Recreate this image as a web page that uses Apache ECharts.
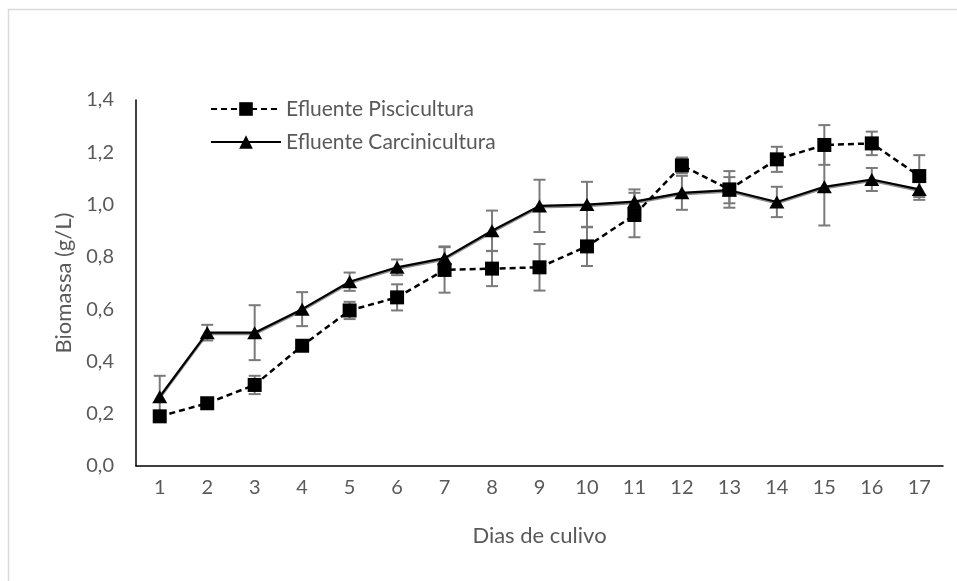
<!DOCTYPE html>
<html>
<head>
<meta charset="utf-8">
<script src="https://cdn.jsdelivr.net/npm/echarts@6/dist/echarts.min.js"></script>
<style>
  html, body { margin: 0; padding: 0; background: #fff; }
  #chart { width: 957px; height: 581px; }
</style>
</head>
<body>
<div id="chart"></div>
<script>
// dias de cultivo
var dias = ['1', '2', '3', '4', '5', '6', '7', '8', '9', '10', '11', '12', '13', '14', '15', '16', '17'];

// Efluente Piscicultura (quadrado, tracejado)
var pisc = [0.19, 0.24, 0.31, 0.46, 0.595, 0.645, 0.75, 0.755, 0.76, 0.84, 0.96, 1.15, 1.058, 1.173, 1.228, 1.234, 1.109];
var piscErr = [0.01, 0.01, 0.035, 0.015, 0.033, 0.05, 0.087, 0.067, 0.089, 0.075, 0.085, 0.03, 0.07, 0.048, 0.076, 0.045, 0.08];

// Efluente Carcinicultura (triangulo, continua)
var carc = [0.265, 0.51, 0.51, 0.60, 0.705, 0.76, 0.795, 0.90, 0.995, 1.0, 1.011, 1.045, 1.055, 1.01, 1.068, 1.096, 1.058];
var carcErr = [0.08, 0.03, 0.105, 0.065, 0.035, 0.03, 0.045, 0.077, 0.10, 0.087, 0.047, 0.065, 0.05, 0.058, 0.148, 0.044, 0.04];

var yTicks = { min: 0, max: 1.4, step: 0.2 };

function errData(vals, errs) {
    return vals.map(function (v, i) {
        return [i, v - errs[i], v + errs[i]];
    });
}

function renderErr(params, api) {
    var top = api.coord([api.value(0), api.value(2)]);
    var bot = api.coord([api.value(0), api.value(1)]);
    var w = 6;
    var st = { stroke: '#7a7a7a', lineWidth: 2 };
    return {
        type: 'group',
        children: [
            { type: 'line', shape: { x1: top[0], y1: top[1], x2: bot[0], y2: bot[1] }, style: st },
            { type: 'line', shape: { x1: top[0] - w, y1: top[1], x2: top[0] + w, y2: top[1] }, style: st },
            { type: 'line', shape: { x1: bot[0] - w, y1: bot[1], x2: bot[0] + w, y2: bot[1] }, style: st }
        ]
    };
}

var chart = echarts.init(document.getElementById('chart'));
var font = 'Lato';
var grey = '#595959';

chart.setOption({
    animation: false,
    backgroundColor: '#fff',
    graphic: [{
        type: 'rect',
        shape: { x: 8.5, y: 9.5, width: 960, height: 590 },
        style: { fill: null, stroke: '#d9d9d9', lineWidth: 1.5 },
        z: -1
    }],
    grid: { left: 136, right: 14, top: 100, bottom: 115 },
    legend: {
        orient: 'vertical',
        left: 205,
        top: 93,
        itemWidth: 70,
        itemHeight: 17,
        itemGap: 11,
        data: ['Efluente Piscicultura', 'Efluente Carcinicultura'],
        textStyle: { fontFamily: font, fontSize: 21, color: grey, lineHeight: 22 }
    },
    xAxis: {
        type: 'category',
        data: dias,
        name: 'Dias de culivo',
        nameLocation: 'middle',
        nameGap: 59,
        nameTextStyle: { fontFamily: font, fontSize: 22, color: grey },
        axisLine: { lineStyle: { color: '#000', width: 1.5 } },
        axisTick: { show: false },
        axisLabel: { fontFamily: font, fontSize: 20, color: grey, margin: 12 }
    },
    yAxis: {
        type: 'value',
        min: yTicks.min,
        max: yTicks.max,
        interval: yTicks.step,
        name: 'Biomassa (g/L)',
        nameLocation: 'middle',
        nameGap: 52,
        nameRotate: 90,
        nameTextStyle: { fontFamily: font, fontSize: 22, color: grey },
        splitLine: { show: false },
        axisLine: { show: true, lineStyle: { color: '#000', width: 1.5 } },
        axisTick: { show: false },
        axisLabel: {
            fontFamily: font, fontSize: 20, color: grey, margin: 22,
            formatter: function (v) { return v.toFixed(1).replace('.', ','); }
        }
    },
    series: [
        {
            type: 'custom',
            name: 'errPisc',
            renderItem: renderErr,
            data: errData(pisc, piscErr),
            encode: { x: 0, y: [1, 2] },
            z: 1,
            silent: true
        },
        {
            type: 'custom',
            name: 'errCarc',
            renderItem: renderErr,
            data: errData(carc, carcErr),
            encode: { x: 0, y: [1, 2] },
            z: 1,
            silent: true
        },
        {
            name: 'Efluente Carcinicultura',
            type: 'line',
            data: carc,
            symbol: 'triangle',
            symbolSize: [15, 13],
            itemStyle: { color: '#000' },
            lineStyle: {
                color: '#000', width: 2.2, type: 'solid',
                shadowColor: 'rgba(0,0,0,0.45)', shadowOffsetY: 1.5, shadowBlur: 0
            },
            z: 3
        },
        {
            name: 'Efluente Piscicultura',
            type: 'line',
            data: pisc,
            symbol: 'rect',
            symbolSize: 14,
            itemStyle: { color: '#000' },
            lineStyle: { color: '#000', width: 2.5, type: [6, 4] },
            z: 4
        }
    ]
});
</script>
</body>
</html>
